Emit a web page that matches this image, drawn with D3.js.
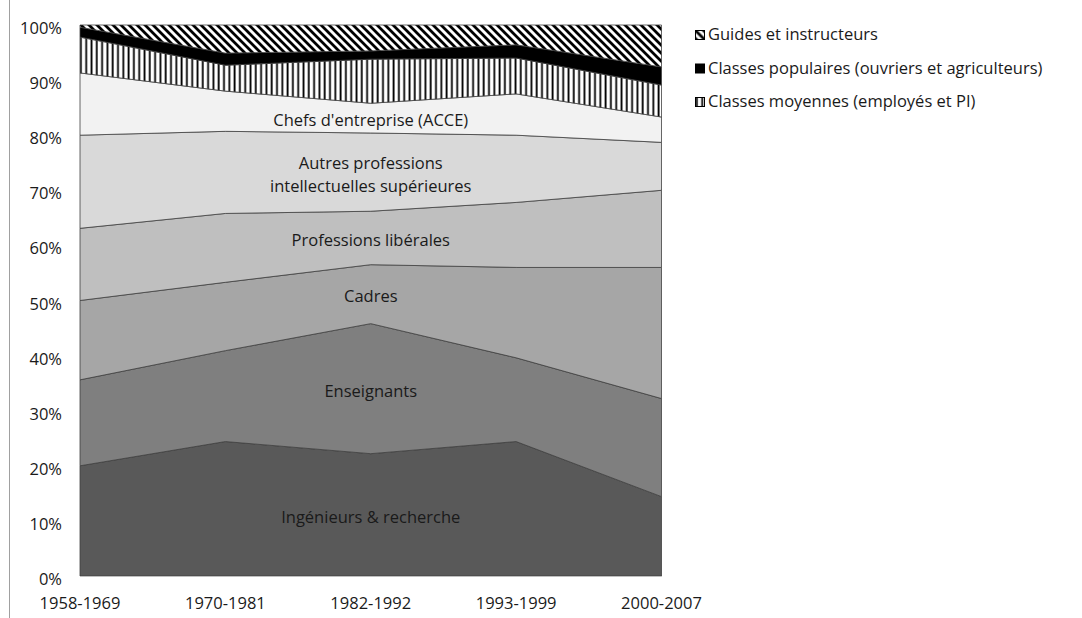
<!DOCTYPE html>
<html lang="fr">
  <head>
    <meta charset="utf-8">
    <title>Origine sociale - aires empilées</title>
    <script src="https://d3js.org/d3.v7.min.js"></script>
    <style type="text/css">
      body {
        margin: 0;
        background: white;
        font-family: "Open Sans", sans-serif;
      }
      text {
        font-size: 16.5px;
        fill: #1a1a1a;
      }
    </style>
  </head>
  <body>
    <script>
      // periods on the x axis
      var periods = ["1958-1969", "1970-1981", "1982-1992", "1993-1999", "2000-2007"];

      // share of each group (%), bottom layer first
      var ingenieurs  = [20.0, 24.4, 22.2, 24.4, 14.4];
      var enseignants = [15.6, 16.5, 23.6, 15.2, 17.8];
      var cadres      = [14.4, 12.4, 10.7, 16.4, 23.8];
      var liberales   = [13.1, 12.5,  9.7, 11.8, 14.0];
      var autresPIS   = [16.9, 14.9, 14.2, 12.2,  8.7];
      var chefs       = [11.3,  7.3,  5.4,  7.5,  4.6];
      var moyennes    = [ 6.5,  4.7,  8.0,  6.5,  5.8];
      var populaires  = [ 1.8,  2.2,  1.5,  2.4,  3.3];
      var guides      = [ 0.4,  5.1,  4.7,  3.6,  7.6];

      var seriesNames = ["Ingénieurs & recherche", "Enseignants", "Cadres", "Professions libérales",
        "Autres professions intellectuelles supérieures", "Chefs d'entreprise (ACCE)",
        "Classes moyennes (employés et PI)", "Classes populaires (ouvriers et agriculteurs)",
        "Guides et instructeurs"];
      var seriesValues = [ingenieurs, enseignants, cadres, liberales, autresPIS, chefs, moyennes, populaires, guides];

      var yTicks = [0, 0.1, 0.2, 0.3, 0.4, 0.5, 0.6, 0.7, 0.8, 0.9, 1];

      // legend shows only the three top series (top first)
      var legendNames = ["Guides et instructeurs", "Classes populaires (ouvriers et agriculteurs)", "Classes moyennes (employés et PI)"];

      var width = 1082, height = 618;
      var fills = ["#595959", "#7f7f7f", "#a6a6a6", "#bfbfbf", "#d9d9d9", "#f2f2f2", "url(#vert)", "#000000", "url(#diag)"];

      // build table for d3.stack
      var table = periods.map(function(p, i) {
        var row = {period: p};
        seriesNames.forEach(function(n, k) { row[n] = seriesValues[k][i]; });
        return row;
      });

      var stack = d3.stack().keys(seriesNames).offset(d3.stackOffsetExpand);
      var layers = stack(table);

      var x = d3.scalePoint().domain(periods).range([80, 661.5]);
      var y = d3.scaleLinear().domain([0, 1]).range([576, 25]);

      var svg = d3.select("body").append("svg")
        .attr("width", width)
        .attr("height", height);

      // patterns
      var defs = svg.append("defs");
      var diag = defs.append("pattern").attr("id", "diag")
        .attr("patternUnits", "userSpaceOnUse").attr("width", 8).attr("height", 8);
      diag.append("rect").attr("width", 8).attr("height", 8).attr("fill", "white");
      diag.append("path").attr("d", "M-2,-2L10,10M-2,6L2,10M6,-2L10,2")
        .attr("stroke", "black").attr("stroke-width", 2.8);

      var vert = defs.append("pattern").attr("id", "vert")
        .attr("patternUnits", "userSpaceOnUse").attr("width", 5.3).attr("height", 10);
      vert.append("rect").attr("width", 5.3).attr("height", 10).attr("fill", "white");
      vert.append("rect").attr("x", 0.5).attr("width", 1.8).attr("height", 10).attr("fill", "black");

      // thin frame line at left of the picture
      svg.append("line")
        .attr("x1", 9.5).attr("x2", 9.5).attr("y1", 0).attr("y2", height)
        .attr("stroke", "#a0a0a0");

      var area = d3.area()
        .x(function(d) { return x(d.data.period); })
        .y0(function(d) { return y(d[0]); })
        .y1(function(d) { return y(d[1]); });

      svg.append("g").selectAll("path")
        .data(layers)
        .enter()
        .append("path")
        .attr("d", area)
        .attr("fill", function(d, i) { return fills[i]; })
        .attr("stroke", "#404040")
        .attr("stroke-width", 0.8)
        .attr("stroke-linejoin", "round");

      // x axis line
      svg.append("line")
        .attr("x1", x.range()[0]).attr("x2", x.range()[1])
        .attr("y1", y(0) + 0.5).attr("y2", y(0) + 0.5)
        .attr("stroke", "#bfbfbf");

      // y tick labels
      svg.append("g").selectAll("text")
        .data(yTicks)
        .enter()
        .append("text")
        .attr("x", 62)
        .attr("y", function(d) { return y(d) + 9; })
        .attr("text-anchor", "end")
        .text(d3.format(".0%"));

      // x labels
      svg.append("g").selectAll("text")
        .data(periods)
        .enter()
        .append("text")
        .attr("x", function(d) { return x(d); })
        .attr("y", 608.5)
        .attr("text-anchor", "middle")
        .text(function(d) { return d; });

      // in-area labels for first six layers, at the middle period
      var mid = periods[2];
      var labelLines = [["Ingénieurs & recherche"], ["Enseignants"], ["Cadres"], ["Professions libérales"],
        ["Autres professions", "intellectuelles supérieures"], ["Chefs d'entreprise (ACCE)"]];

      labelLines.forEach(function(lines, i) {
        var pt = layers[i][2];
        var cy = y((pt[0] + pt[1]) / 2) + 2;
        var t = svg.append("text")
          .attr("text-anchor", "middle")
          .attr("x", x(mid))
          .attr("y", cy - (lines.length - 1) * 11.5 + 6);
        lines.forEach(function(l, j) {
          t.append("tspan").attr("x", x(mid)).attr("dy", j === 0 ? 0 : 23).text(l);
        });
      });

      // legend
      var legend = svg.append("g").selectAll("g")
        .data(legendNames)
        .enter()
        .append("g")
        .attr("transform", function(d, i) { return "translate(695.5," + (30.5 + i * 33.5) + ")"; });

      legend.append("rect")
        .attr("width", 9).attr("height", 9)
        .attr("fill", function(d) { return fills[seriesNames.indexOf(d)]; })
        .attr("stroke", "black")
        .attr("stroke-width", 1);

      legend.append("text")
        .attr("x", 12.5)
        .attr("y", 9.5)
        .text(function(d) { return d; });
    </script>
  </body>
</html>
